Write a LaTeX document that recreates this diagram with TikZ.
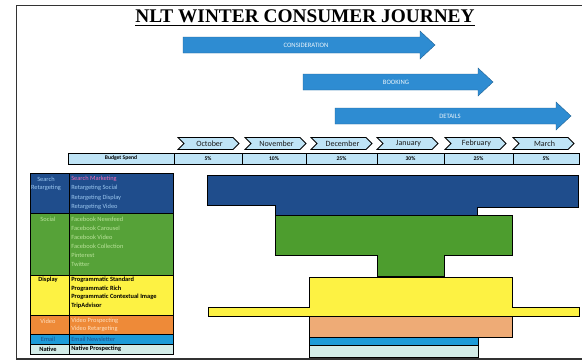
\documentclass[tikz,border=0pt]{standalone}
\usepackage{fontspec}
\setmainfont{Carlito}
\newfontfamily\titlefont{Liberation Serif}
\definecolor{arrowblue}{HTML}{2E8CD2}
\definecolor{chevfill}{HTML}{BFE4F6}
\definecolor{navy}{HTML}{1F4D8C}
\definecolor{leaf}{HTML}{4D9D2E}
\definecolor{lemon}{HTML}{FDF243}
\definecolor{tangerine}{HTML}{EE8A38}
\definecolor{peach}{HTML}{EEAB76}
\definecolor{sky}{HTML}{1D9BD8}
\definecolor{mint}{HTML}{D3ECE8}
\definecolor{pinkish}{HTML}{F06BB4}
\definecolor{paleblue}{HTML}{9CC8F0}
\definecolor{palegreen}{HTML}{B9E39A}
\begin{document}
\begin{tikzpicture}[x=0.75pt,y=-0.75pt,
  frameline/.style={draw=black!80,line width=1.1pt},
  phase/.style={fill=arrowblue,draw=arrowblue!70!black,line width=0.3pt},
  phaselabel/.style={text=white!90!arrowblue,font=\fontsize{5}{5.5}\selectfont},
  chev/.style={draw=black,line width=0.6pt,fill=chevfill},
  chevlabel/.style={font=\fontsize{6}{6.5}\selectfont,text=black!90},
  budgetcell/.style={draw=black,line width=0.6pt,fill=chevfill},
  budgetlabel/.style={font=\bfseries\fontsize{4.2}{5}\selectfont},
  band/.style={draw=black,line width=0.5pt},
  tabcell/.style={draw=black,line width=0.6pt},
  rowlabel/.style={font=\fontsize{4.8}{5}\selectfont},
  item/.style={anchor=west,font=\fontsize{4.8}{5}\selectfont,inner xsep=0pt}]
\useasboundingbox (0,0) rectangle (582,364);
\fill[white] (0,0) rectangle (582,364);

% outer frame
\draw[frameline] (582,5.5) -- (16.5,5.5) -- (16.5,359) -- (582,359);

% title
\node[font=\titlefont\bfseries\fontsize{14.5}{15}\selectfont] (title) at (305,18)
  {\underline{NLT WINTER CONSUMER JOURNEY}};

% phase arrows
\draw[phase] (183,37) -- (420,37) -- (420,31) -- (435,45) -- (420,59) -- (420,53) -- (183,53) -- cycle;
\node[phaselabel] (consideration) at (306,45) {CONSIDERATION};
\draw[phase] (303,74) -- (478,74) -- (478,68) -- (493,82) -- (478,96) -- (478,90) -- (303,90) -- cycle;
\node[phaselabel] (booking) at (396,82) {BOOKING};
\draw[phase] (335,108) -- (556,108) -- (556,102) -- (571,116) -- (556,130) -- (556,124) -- (335,124) -- cycle;
\node[phaselabel] (details) at (450,116) {DETAILS};

% month chevrons
\foreach \x/\m [count=\i] in {178/October,245/November,311/December,377/January,445/February,513/March}{
  \draw[chev] (\x,137.5) -- ++(55,0) -- ++(6,6) -- ++(-6,6) -- ++(-55,0) -- ++(6,-6) -- cycle;
  \node[chevlabel] (month\i) at (\x+31.5,143.5) {\m};
}

% budget row
\draw[budgetcell] (68,153) rectangle (579,164);
\foreach \x in {174,242,306,377,444,513} \draw[line width=0.6pt] (\x,153) -- (\x,164);
\node[budgetlabel] (budget) at (121,158.5) {Budget Spend};
\foreach \a/\b/\p [count=\i] in {174/242/5\%,242/306/10\%,306/377/25\%,377/444/30\%,444/513/25\%,513/579/5\%}
  \node[budgetlabel] (spend\i) at ({(\a+\b)/2},158.5) {\p};

% channel table
\fill[navy] (30,173) rectangle (173,213);
\fill[leaf!95!white] (30,213) rectangle (173,275);
\fill[lemon] (30,275) rectangle (173,315);
\fill[tangerine] (30,315) rectangle (173,334);
\fill[sky] (30,334) rectangle (173,344);
\fill[mint] (30,344) rectangle (173,354);
\foreach \t/\b in {173/213,213/275,275/315,315/334,334/344,344/354}
  \draw[tabcell] (30,\t) rectangle (173,\b);
\draw[tabcell] (69,173) -- (69,354);

\node[rowlabel,text=paleblue] (lsearch) at (46,179) {Search};
\node[rowlabel,text=paleblue] (lretarget) at (46,188) {Retargeting};
\node[item,text=pinkish] (i1) at (71,179) {Search Marketing};
\node[item,text=paleblue] (i2) at (71,188) {Retargeting Social};
\node[item,text=paleblue] (i3) at (71,197.5) {Retargeting Display};
\node[item,text=paleblue] (i4) at (71,207) {Retargeting Video};

\node[rowlabel,text=palegreen] (lsocial) at (48,219) {Social};
\foreach \t [count=\i] in {Facebook Newsfeed,Facebook Carousel,Facebook Video,Facebook Collection,Pinterest,Twitter}
  \node[item,text=palegreen] (s\i) at (71,210+9*\i) {\t};

\node[rowlabel,font=\bfseries\fontsize{4.8}{5}\selectfont] (ldisplay) at (48,280) {Display};
\foreach \t [count=\i] in {Programmatic Standard,Programmatic Rich,Programmatic Contextual Image,TripAdvisor}
  \node[item,font=\bfseries\fontsize{4.8}{5}\selectfont] (d\i) at (71,271.5+8.5*\i) {\t};

\node[rowlabel,text=orange!25] (lvideo) at (48,321) {Video};
\node[item,text=orange!25] (v1) at (71,320.5) {Video Prospecting};
\node[item,text=orange!25] (v2) at (71,329) {Video Retargeting};

\node[rowlabel,text=navy] (lemail) at (48,339) {Email};
\node[item,text=navy] (e1) at (71,339) {Email Newsletter};

\node[rowlabel,font=\bfseries\fontsize{4.8}{5}\selectfont] (lnative) at (48,349) {Native};
\node[item,font=\bfseries\fontsize{4.8}{5}\selectfont] (n1) at (71,349) {Native Prospecting};

% spend bands over the months
\draw[band,fill=navy] (207,175) -- (578,175) -- (578,207) -- (477,207) -- (477,215)
  -- (275,215) -- (275,205) -- (207,205) -- cycle;
\draw[band,fill=leaf] (275,215) -- (512,215) -- (512,255) -- (444,255) -- (444,276)
  -- (377,276) -- (377,255) -- (275,255) -- cycle;
\draw[band,fill=lemon] (309,277) -- (512,277) -- (512,307) -- (579,307) -- (579,316)
  -- (208,316) -- (208,307) -- (309,307) -- cycle;
\draw[band,fill=peach] (309,316) rectangle (512,337);
\draw[band,fill=sky] (309,337) rectangle (478,345);
\draw[band,fill=mint] (309,345) rectangle (478,357);
\end{tikzpicture}
\end{document}
